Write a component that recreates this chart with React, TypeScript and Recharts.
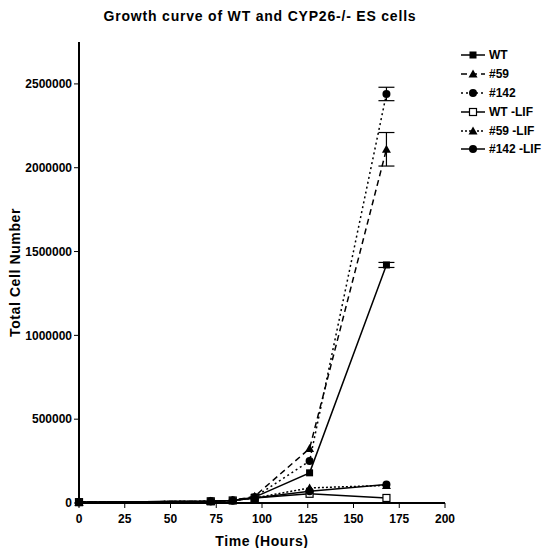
import React from 'react';
import {
  ComposedChart,
  Line,
  XAxis,
  YAxis,
  ErrorBar,
} from 'recharts';

// sampling times (hours)
const hours = [0, 72, 84, 96, 126, 168];

// total cell numbers per line
const wt = [5000, 10000, 15000, 35000, 180000, 1420000];
const c59 = [5000, 10000, 15000, 40000, 325000, 2110000];
const c142 = [5000, 10000, 15000, 35000, 250000, 2440000];
const wtLif = [5000, 10000, 15000, 30000, 55000, 30000];
const c59Lif = [5000, 10000, 15000, 30000, 90000, 105000];
const c142Lif = [5000, 10000, 15000, 30000, 70000, 110000];

// SEM, only visible at the last time point
const wtErr = [0, 0, 0, 0, 0, 15000];
const c59Err = [0, 0, 0, 0, 0, 100000];
const c142Err = [0, 0, 0, 0, 0, 40000];

const xTicks = [0, 25, 50, 75, 100, 125, 150, 175, 200];
const yTicks = [0, 500000, 1000000, 1500000, 2000000, 2500000];

const data = hours.map((h, i) => ({
  h,
  wt: wt[i],
  c59: c59[i],
  c142: c142[i],
  wtLif: wtLif[i],
  c59Lif: c59Lif[i],
  c142Lif: c142Lif[i],
  wtErr: wtErr[i],
  c59Err: c59Err[i],
  c142Err: c142Err[i],
}));

const FONT = '"Liberation Sans", Arial, sans-serif';

type Shape = 'square' | 'triangle' | 'circle' | 'openSquare';

const drawMarker = (shape: Shape, cx: number, cy: number, key?: any) => {
  if (shape === 'square') {
    return <rect key={key} x={cx - 3.5} y={cy - 3.5} width={7} height={7} fill="#000" />;
  }
  if (shape === 'openSquare') {
    return <rect key={key} x={cx - 3.5} y={cy - 3.5} width={7} height={7} fill="#fff" stroke="#000" strokeWidth={1.2} />;
  }
  if (shape === 'triangle') {
    return <path key={key} d={`M${cx},${cy - 4.5}L${cx + 4.5},${cy + 3.5}L${cx - 4.5},${cy + 3.5}Z`} fill="#000" />;
  }
  return <circle key={key} cx={cx} cy={cy} r={4} fill="#000" />;
};

const dotFor = (shape: Shape) => (props: any) => {
  const { cx, cy, index } = props;
  if (cx == null || cy == null) return <g key={index} />;
  return drawMarker(shape, cx, cy, index);
};

const series = [
  { key: 'wt', name: 'WT', shape: 'square' as Shape, dash: undefined, err: 'wtErr' },
  { key: 'c59', name: '#59', shape: 'triangle' as Shape, dash: '6 4', err: 'c59Err' },
  { key: 'c142', name: '#142', shape: 'circle' as Shape, dash: '2 3', err: 'c142Err' },
  { key: 'wtLif', name: 'WT -LIF', shape: 'openSquare' as Shape, dash: undefined, err: null },
  { key: 'c59Lif', name: '#59 -LIF', shape: 'triangle' as Shape, dash: '2 2', err: null },
  { key: 'c142Lif', name: '#142 -LIF', shape: 'circle' as Shape, dash: undefined, err: null },
];

const LegendBox = () => (
  <div
    style={{
      position: 'absolute',
      left: 460,
      top: 46,
      fontFamily: FONT,
      fontWeight: 700,
      fontSize: 12,
    }}
  >
    {series.map((s) => (
      <div key={s.key} style={{ display: 'flex', alignItems: 'center', height: 18.8 }}>
        <svg width={26} height={12} style={{ marginRight: 3 }}>
          <line x1={1} y1={6} x2={25} y2={6} stroke="#000" strokeWidth={1.5} strokeDasharray={s.dash} />
          {drawMarker(s.shape, 13, 6)}
        </svg>
        <span>{s.name}</span>
      </div>
    ))}
  </div>
);

const tickStyle = { fontFamily: FONT, fontWeight: 700, fontSize: 12, fill: '#000' };
const labelStyle = { fontFamily: FONT, fontWeight: 700, fontSize: 14, fill: '#000', letterSpacing: 0.6 };

export default function App() {
  return (
    <div style={{ position: 'absolute', left: 0, top: 0, width: 549, height: 548, background: '#fff' }}>
      <div
        style={{
          position: 'absolute',
          left: 0,
          width: 520,
          top: 8,
          textAlign: 'center',
          fontFamily: FONT,
          fontWeight: 700,
          fontSize: 14,
          letterSpacing: 0.8,
        }}
      >
        Growth curve of WT and CYP26-/- ES cells
      </div>
      <LegendBox />
      <ComposedChart
        width={549}
        height={548}
        data={data}
        margin={{ top: 42, right: 104, bottom: 0, left: 0 }}
      >
        <XAxis
          dataKey="h"
          type="number"
          domain={[0, 200]}
          ticks={xTicks}
          interval={0}
          tick={tickStyle}
          tickSize={5}
          tickMargin={6}
          stroke="#000"
          strokeWidth={2}
          tickLine={{ stroke: '#000', strokeWidth: 1 }}
          height={45}
          label={{
            value: 'Time (Hours)',
            position: 'insideBottom',
            offset: 2,
            fill: '#000',
            style: labelStyle,
          }}
        />
        <YAxis
          type="number"
          domain={[0, 2750000]}
          ticks={yTicks}
          interval={0}
          tick={tickStyle}
          tickSize={5}
          width={79}
          stroke="#000"
          strokeWidth={2}
          tickLine={{ stroke: '#000', strokeWidth: 1 }}
          label={{
            value: 'Total Cell Number',
            angle: -90,
            position: 'insideLeft',
            offset: 15,
            fill: '#000',
            style: { ...labelStyle, textAnchor: 'middle' },
          }}
        />
        {series.map((s) => (
          <Line
            key={s.key}
            dataKey={s.key}
            name={s.name}
            stroke="#000"
            strokeWidth={1.5}
            strokeDasharray={s.dash}
            dot={dotFor(s.shape)}
            activeDot={false}
            isAnimationActive={false}
          >
            {s.err ? <ErrorBar dataKey={s.err} direction="y" width={8} stroke="#000" strokeWidth={1.2} /> : null}
          </Line>
        ))}
      </ComposedChart>
    </div>
  );
}
